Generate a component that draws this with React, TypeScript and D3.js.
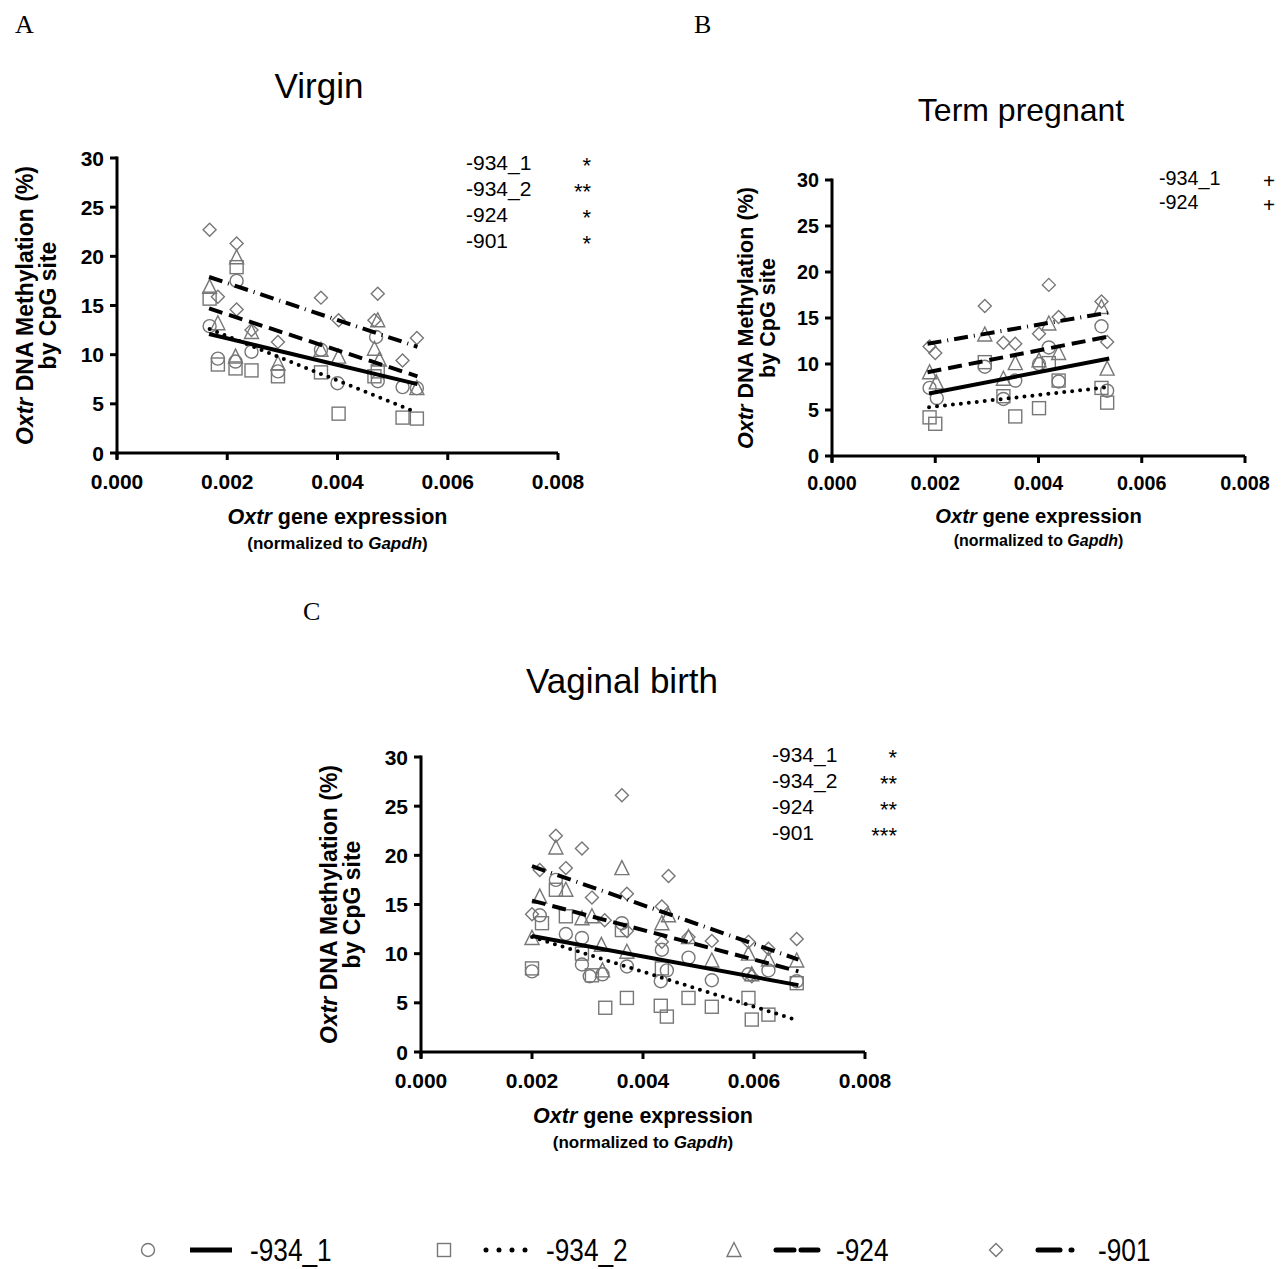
import React from 'react'
import * as d3 from 'd3'

// CpG sites and axis ticks
const sites = ['-934_1', '-934_2', '-924', '-901']
const xTicks = [0, 0.002, 0.004, 0.006, 0.008]
const yTicks = [0, 5, 10, 15, 20, 25, 30]

// Virgin
const virgin_934_1 = [[0.00168, 12.9], [0.00217, 17.5], [0.00183, 9.6], [0.00215, 9.3], [0.00244, 10.3], [0.00292, 8.3], [0.0037, 10.5], [0.004, 7.1], [0.0047, 11.8], [0.00473, 7.3], [0.00518, 6.7], [0.00544, 6.6]]
const virgin_934_2 = [[0.00217, 18.9], [0.00168, 15.7], [0.00183, 9.0], [0.00215, 8.6], [0.00244, 8.4], [0.00292, 7.8], [0.0037, 8.2], [0.00402, 4.0], [0.00467, 7.8], [0.00473, 8.3], [0.00518, 3.6], [0.00544, 3.5]]
const virgin_924 = [[0.00168, 16.9], [0.00217, 19.9], [0.00183, 13.2], [0.00244, 12.3], [0.00215, 9.8], [0.00292, 9.1], [0.0037, 10.5], [0.00402, 9.8], [0.00473, 13.5], [0.00467, 10.6], [0.00476, 9.5], [0.00544, 6.6]]
const virgin_901 = [[0.00168, 22.7], [0.00217, 21.3], [0.00183, 15.9], [0.00217, 14.6], [0.0037, 15.8], [0.00402, 13.5], [0.00473, 16.2], [0.00467, 13.5], [0.00292, 11.3], [0.00544, 11.7], [0.00518, 9.4], [0.00244, 12.5]]
const virginFits = [[0.00167, 12.1, 0.00545, 7.0], [0.00168, 12.6, 0.00545, 4.1], [0.00167, 14.7, 0.00545, 7.8], [0.00167, 17.9, 0.00545, 10.8]]
const virginSigSites = ['-934_1', '-934_2', '-924', '-901']
const virginSig = ['*', '**', '*', '*']

// Term pregnant
const term_934_1 = [[0.00522, 14.1], [0.0042, 11.8], [0.00401, 10.0], [0.00355, 8.2], [0.00296, 9.7], [0.00332, 6.2], [0.00439, 8.1], [0.00189, 7.4], [0.00203, 6.3], [0.00533, 7.1]]
const term_934_2 = [[0.00296, 10.2], [0.0042, 10.1], [0.00439, 8.2], [0.00332, 6.5], [0.00355, 4.3], [0.00401, 5.2], [0.00189, 4.2], [0.002, 3.5], [0.00522, 7.4], [0.00533, 5.8]]
const term_924 = [[0.00522, 16.2], [0.00296, 13.2], [0.0042, 14.4], [0.00439, 11.2], [0.00401, 10.4], [0.00355, 10.1], [0.00332, 8.4], [0.00189, 9.1], [0.00202, 8.0], [0.00533, 9.5]]
const term_901 = [[0.0042, 18.6], [0.00296, 16.3], [0.00522, 16.8], [0.00439, 15.1], [0.00401, 13.3], [0.00332, 12.3], [0.00355, 12.2], [0.00189, 11.9], [0.002, 11.2], [0.00533, 12.4]]
const termFits = [[0.00188, 6.8, 0.00537, 10.6], [0.00188, 5.3, 0.00537, 7.5], [0.00185, 9.1, 0.00537, 13.0], [0.00185, 12.2, 0.00537, 15.6]]
const termSigSites = ['-934_1', '-924']
const termSig = ['+', '+']

// Vaginal birth
const birth_934_1 = [[0.00214, 13.9], [0.00243, 17.5], [0.00261, 12.0], [0.0029, 11.6], [0.00362, 13.1], [0.00371, 8.7], [0.0029, 8.9], [0.00304, 7.7], [0.00434, 10.4], [0.00443, 8.3], [0.00432, 7.2], [0.00482, 9.6], [0.00524, 7.3], [0.0059, 7.9], [0.00626, 8.3], [0.00677, 7.2], [0.002, 8.2], [0.00327, 7.9]]
const birth_934_2 = [[0.002, 8.5], [0.00218, 13.1], [0.00243, 16.5], [0.00261, 13.8], [0.0029, 10.0], [0.00308, 7.8], [0.00362, 12.4], [0.00332, 4.5], [0.00371, 5.5], [0.00432, 4.7], [0.00443, 3.6], [0.00434, 8.5], [0.00482, 5.5], [0.00524, 4.6], [0.0059, 5.5], [0.00596, 3.3], [0.00626, 3.8], [0.00677, 7.0]]
const birth_924 = [[0.00243, 20.8], [0.00362, 18.7], [0.00214, 15.8], [0.00261, 16.5], [0.002, 11.6], [0.00308, 13.8], [0.0029, 13.6], [0.00434, 13.1], [0.00446, 13.9], [0.00482, 11.7], [0.00325, 10.9], [0.00371, 10.2], [0.00524, 9.3], [0.0059, 10.0], [0.00626, 9.4], [0.00677, 9.3], [0.00327, 8.3], [0.00596, 7.9]]
const birth_901 = [[0.00362, 26.1], [0.00243, 22.0], [0.0029, 20.7], [0.00261, 18.7], [0.00214, 18.5], [0.00446, 17.9], [0.00308, 15.7], [0.00371, 16.1], [0.00434, 14.8], [0.002, 14.0], [0.00331, 13.4], [0.00371, 12.3], [0.00524, 11.3], [0.00434, 11.2], [0.00482, 11.7], [0.0059, 11.2], [0.00626, 10.5], [0.00677, 11.5], [0.00596, 7.7]]
const birthFits = [[0.002, 11.8, 0.0068, 6.8], [0.002, 11.7, 0.0068, 3.2], [0.002, 15.4, 0.0068, 8.2], [0.002, 18.9, 0.0068, 9.4]]
const birthSigSites = ['-934_1', '-934_2', '-924', '-901']
const birthSig = ['*', '**', '**', '***']

const FONT = 'Liberation Sans, Arial, sans-serif'
const dashes = ['none', '0 8', '14 7', '14 6 1 6']
const caps: ('butt' | 'round')[] = ['butt', 'round', 'butt', 'butt']

function Marker({ kind, x, y, s = 6.5 }: { kind: number, x: number, y: number, s?: number }) {
  const st = { fill: 'none', stroke: '#777', strokeWidth: 1.4 }
  if (kind === 0) return <circle cx={x} cy={y} r={s} {...st} />
  if (kind === 1) return <rect x={x - s} y={y - s} width={2 * s} height={2 * s} {...st} />
  if (kind === 2) return <path d={`M${x},${y - s - 1}L${x + s + 0.5},${y + s}L${x - s - 0.5},${y + s}Z`} {...st} />
  return <path d={`M${x},${y - s}L${x + s},${y}L${x},${y + s}L${x - s},${y}Z`} {...st} />
}

type PanelProps = {
  letter: string, lx: number, ly: number,
  title: string, tx: number, ty: number, tfs: number, fs: number,
  x0: number, x1: number, y0: number, y1: number,
  series: number[][][], fits: number[][], sigSites: string[], sig: string[],
  sx: number, sy: number, starX: number
}

function Panel(p: PanelProps) {
  const x = d3.scaleLinear().domain([0, 0.008]).range([p.x0, p.x1])
  const y = d3.scaleLinear().domain([0, 30]).range([p.y0, p.y1])
  const fmt = d3.format('.3f')
  const midY = (p.y0 + p.y1) / 2
  const midX = (p.x0 + p.x1) / 2
  const f = p.fs
  return (
    <g fontFamily={FONT}>
      <text x={p.lx} y={p.ly} fontFamily="Liberation Serif, Times New Roman, serif" fontSize={26}>{p.letter}</text>
      <text x={p.tx} y={p.ty} textAnchor="middle" fontSize={p.tfs}>{p.title}</text>
      {/* axes */}
      <line x1={p.x0} x2={p.x0} y1={p.y1 - 1.5} y2={p.y0 + 6} stroke="#000" strokeWidth={3} />
      <line x1={p.x0 - 1.5} x2={p.x1} y1={p.y0} y2={p.y0} stroke="#000" strokeWidth={3} />
      {yTicks.map(t => (
        <g key={'y' + t}>
          <line x1={p.x0 - 7} x2={p.x0} y1={y(t)} y2={y(t)} stroke="#000" strokeWidth={3} />
          <text x={p.x0 - 13} y={y(t)} dy="0.36em" textAnchor="end" fontSize={21 * f} fontWeight="bold">{t}</text>
        </g>
      ))}
      {xTicks.map(t => (
        <g key={'x' + t}>
          <line x1={x(t)} x2={x(t)} y1={p.y0} y2={p.y0 + 7} stroke="#000" strokeWidth={3} />
          <text x={x(t)} y={p.y0 + 36 * f} textAnchor="middle" fontSize={21 * f} fontWeight="bold">{fmt(t)}</text>
        </g>
      ))}
      <text transform={`translate(${p.x0 - 84 * f},${midY}) rotate(-90)`} textAnchor="middle" fontSize={23 * f} fontWeight="bold">
        <tspan fontStyle="italic">Oxtr</tspan> DNA Methylation (%)
      </text>
      <text transform={`translate(${p.x0 - 61 * f},${midY}) rotate(-90)`} textAnchor="middle" fontSize={23 * f} fontWeight="bold">by CpG site</text>
      <text x={midX} y={p.y0 + 71 * f} textAnchor="middle" fontSize={21.5 * f} fontWeight="bold">
        <tspan fontStyle="italic">Oxtr</tspan> gene expression
      </text>
      <text x={midX} y={p.y0 + 96 * f} textAnchor="middle" fontSize={17 * f} fontWeight="bold">
        (normalized to <tspan fontStyle="italic">Gapdh</tspan>)
      </text>
      {/* points */}
      {p.series.map((pts, k) => pts.map((d, i) => <Marker key={k + '-' + i} kind={k} x={x(d[0])} y={y(d[1])} />))}
      {/* regression lines */}
      {p.fits.map((l, k) => (
        <line key={'f' + k} x1={x(l[0])} y1={y(l[1])} x2={x(l[2])} y2={y(l[3])}
          stroke="#000" strokeWidth={4} strokeDasharray={dashes[k]} strokeLinecap={caps[k]} />
      ))}
      {/* significance */}
      {p.sig.map((s, k) => (
        <g key={'s' + k}>
          <text x={p.sx} y={p.sy + k * 26 * f} fontSize={21 * f}>{p.sigSites[k]}</text>
          <text x={p.starX} y={p.sy + k * 26 * f + 3} textAnchor="end" fontSize={22 * f}>{s}</text>
        </g>
      ))}
    </g>
  )
}

export default function App() {
  const legendX = [148, 444, 734, 996]
  const y = 1250
  return (
    <svg width={1282} height={1269} style={{ display: 'block', position: 'absolute', left: 0, top: 0 }}>
      <rect width={1282} height={1269} fill="#fff" />
      <Panel letter="A" lx={15} ly={33} title="Virgin" tx={319} ty={98} tfs={35} fs={1}
        x0={117} x1={558} y0={453} y1={158}
        series={[virgin_934_1, virgin_934_2, virgin_924, virgin_901]} fits={virginFits}
        sigSites={virginSigSites} sig={virginSig}
        sx={466} sy={170} starX={591} />
      <Panel letter="B" lx={694} ly={33} title="Term pregnant" tx={1021} ty={121} tfs={32} fs={0.94}
        x0={832} x1={1245} y0={456} y1={180}
        series={[term_934_1, term_934_2, term_924, term_901]} fits={termFits}
        sigSites={termSigSites} sig={termSig}
        sx={1159} sy={185} starX={1275} />
      <Panel letter="C" lx={303} ly={620} title="Vaginal birth" tx={622} ty={693} tfs={35} fs={1}
        x0={421} x1={865} y0={1052} y1={757}
        series={[birth_934_1, birth_934_2, birth_924, birth_901]} fits={birthFits}
        sigSites={birthSigSites} sig={birthSig}
        sx={772} sy={762} starX={897} />
      {/* bottom legend */}
      {sites.map((s, k) => (
        <g key={s}>
          <Marker kind={k} x={legendX[k]} y={y} s={6.5} />
          <line x1={legendX[k] + 42} x2={legendX[k] + 84} y1={y} y2={y} stroke="#000" strokeWidth={5}
            strokeDasharray={k === 1 ? '0 13' : k === 2 ? '18 7' : k === 3 ? '22 11 1 10' : 'none'}
            strokeLinecap={k === 0 ? 'butt' : 'round'} />
          <text transform={`translate(${legendX[k] + 102},${y + 11}) scale(0.82,1)`} fontSize={32}
            fontFamily={FONT}>{s}</text>
        </g>
      ))}
    </svg>
  )
}
